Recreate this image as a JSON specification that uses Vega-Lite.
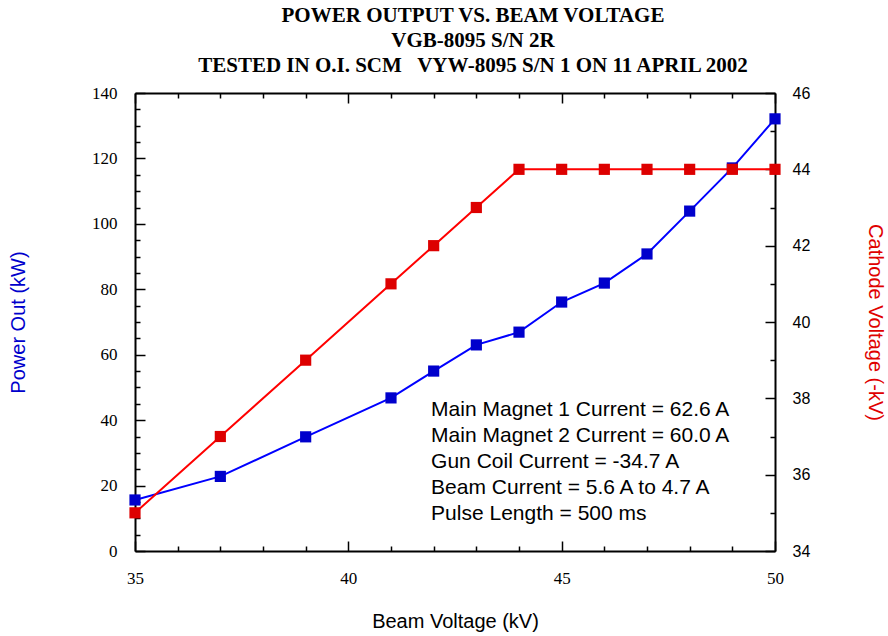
{
  "$schema": "https://vega.github.io/schema/vega-lite/v6.json",
  "width": 640,
  "height": 458,
  "autosize": {"type": "none"},
  "padding": {"left": 135, "top": 93, "right": 113, "bottom": 85},
  "background": "white",
  "config": {
    "view": {"stroke": null},
    "axis": {"grid": false, "domainColor": "black", "domainWidth": 2, "tickColor": "black", "tickWidth": 1.5, "labelColor": "black", "labelOverlap": false, "labelFlush": false, "labelBound": false, "labelFont": "Liberation Serif", "labelFontSize": 17},
    "axisRight": {"labelFont": "Liberation Sans", "labelFontSize": 16}
  },
  "title": {
    "text": ["POWER OUTPUT VS. BEAM VOLTAGE", "VGB-8095 S/N 2R", "TESTED IN O.I. SCM\u00a0\u00a0 VYW-8095 S/N 1 ON 11 APRIL 2002"],
    "font": "Liberation Serif", "fontSize": 21, "fontWeight": "bold", "lineHeight": 25,
    "anchor": "middle", "dx": 18, "offset": 8, "color": "black"
  },
  "data": {"values": [
    {"bv": 35, "power": 15.6, "cathode": 35},
    {"bv": 37, "power": 22.8, "cathode": 37},
    {"bv": 39, "power": 34.9, "cathode": 39},
    {"bv": 41, "power": 46.8, "cathode": 41},
    {"bv": 42, "power": 55.0, "cathode": 42},
    {"bv": 43, "power": 63.0, "cathode": 43},
    {"bv": 44, "power": 66.9, "cathode": 44},
    {"bv": 45, "power": 76.1, "cathode": 44},
    {"bv": 46, "power": 81.9, "cathode": 44},
    {"bv": 47, "power": 90.8, "cathode": 44},
    {"bv": 48, "power": 103.9, "cathode": 44},
    {"bv": 49, "power": 117.1, "cathode": 44},
    {"bv": 50, "power": 132.1, "cathode": 44}
  ]},
  "layer": [
    {
      "encoding": {
        "x": {"field": "bv", "type": "quantitative",
          "scale": {"domain": [35, 50], "nice": false, "zero": false},
          "axis": {"orient": "bottom", "values": [35,36,37,38,39,40,41,42,43,44,45,46,47,48,49,50],
            "labelExpr": "datum.value % 5 === 0 ? datum.label : ''",
            "tickSize": {"condition": {"test": "datum.value % 5 === 0", "value": -10}, "value": -5},
            "labelFont": "Liberation Serif", "labelFontSize": 17, "labelPadding": 29,
            "title": "Beam Voltage (kV)", "titleFont": "Liberation Sans", "titleFontSize": 20, "titleFontWeight": "normal", "titleColor": "black", "titlePadding": 20}},
        "y": {"field": "power", "type": "quantitative",
          "scale": {"domain": [0, 140], "nice": false},
          "axis": {"orient": "left", "values": [0,5,10,15,20,25,30,35,40,45,50,55,60,65,70,75,80,85,90,95,100,105,110,115,120,125,130,135,140],
            "labelExpr": "datum.value % 20 === 0 ? datum.label : ''",
            "tickSize": {"condition": {"test": "datum.value % 20 === 0", "value": -10}, "value": -5},
            "labelFont": "Liberation Serif", "labelFontSize": 17, "labelPadding": 28,
            "title": "Power Out (kW)", "titleFont": "Liberation Sans", "titleFontSize": 20, "titleFontWeight": "normal", "titleColor": "#0000CC", "titlePadding": 63}}
      },
      "layer": [
        {"mark": {"type": "line", "color": "#0000FF", "strokeWidth": 2}},
        {"mark": {"type": "point", "shape": "square", "filled": true, "size": 125, "color": "#0000CC", "opacity": 1}},
        {
          "transform": [{"filter": "datum.bv === 35"}],
          "mark": {"type": "text", "align": "left", "baseline": "alphabetic", "font": "Liberation Sans", "fontSize": 21, "lineHeight": 26, "color": "black"},
          "encoding": {
            "x": {"datum": 41.94, "type": "quantitative"},
            "y": {"datum": 41.3, "type": "quantitative"},
            "text": {"value": ["Main Magnet 1 Current = 62.6 A", "Main Magnet 2 Current = 60.0 A", "Gun Coil Current = -34.7 A", "Beam Current = 5.6 A to 4.7 A", "Pulse Length = 500 ms"]}
          }
        }
      ]
    },
    {
      "encoding": {
        "x": {"field": "bv", "type": "quantitative",
          "scale": {"domain": [35, 50], "nice": false, "zero": false},
          "axis": {"orient": "top", "values": [35,36,37,38,39,40,41,42,43,44,45,46,47,48,49,50],
            "labels": false, "title": null,
            "tickSize": {"condition": {"test": "datum.value % 5 === 0", "value": -10}, "value": -5}}},
        "y": {"field": "cathode", "type": "quantitative",
          "scale": {"domain": [34, 46], "nice": false, "zero": false},
          "axis": {"orient": "right", "values": [34,34.5,35,35.5,36,36.5,37,37.5,38,38.5,39,39.5,40,40.5,41,41.5,42,42.5,43,43.5,44,44.5,45,45.5,46],
            "format": "d",
            "labelExpr": "datum.value % 2 === 0 ? datum.label : ''",
            "tickSize": {"condition": {"test": "datum.value % 2 === 0", "value": -10}, "value": -5},
            "labelFont": "Liberation Sans", "labelFontSize": 16, "labelPadding": 27,
            "title": "Cathode Voltage (-kV)", "titleAngle": 90, "titleFont": "Liberation Sans", "titleFontSize": 20, "titleFontWeight": "normal", "titleColor": "#E00000", "titlePadding": 55}}
      },
      "layer": [
        {"mark": {"type": "line", "color": "#FF0000", "strokeWidth": 2}},
        {"mark": {"type": "point", "shape": "square", "filled": true, "size": 125, "color": "#DD0000", "opacity": 1}}
      ]
    }
  ],
  "resolve": {"scale": {"x": "independent", "y": "independent"}}
}
